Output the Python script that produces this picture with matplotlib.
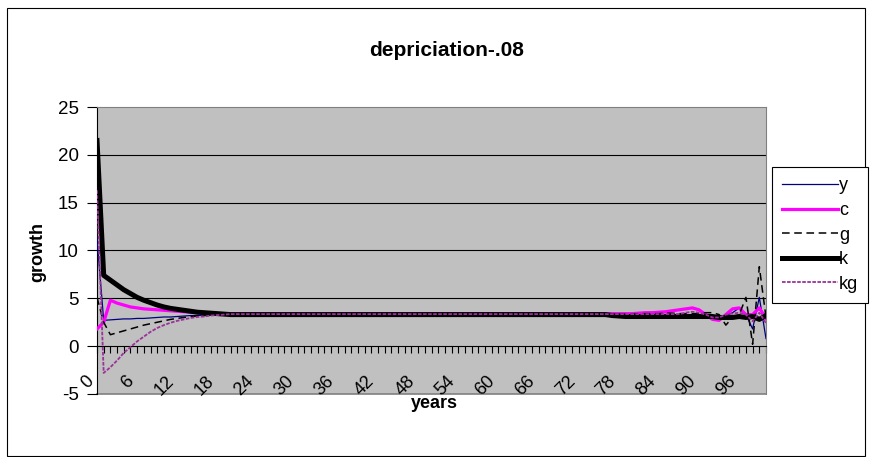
import matplotlib
matplotlib.use("Agg")
import matplotlib.pyplot as plt
from matplotlib.patches import Rectangle
from matplotlib.ticker import MultipleLocator

plt.rcParams['font.family'] = ['Liberation Sans', 'DejaVu Sans']
plt.rcParams['axes.unicode_minus'] = False

years = list(range(0, 101))

y = [11.2, 2.7, 2.75, 2.8, 2.85, 2.85, 2.9, 2.9, 2.95, 3.0,
     3.05, 3.05, 3.1, 3.15, 3.2, 3.2, 3.25, 3.3, 3.3, 3.3,
     3.3, 3.3, 3.3, 3.3, 3.3, 3.3, 3.3, 3.3, 3.3, 3.3,
     3.3, 3.3, 3.3, 3.3, 3.3, 3.3, 3.3, 3.3, 3.3, 3.3,
     3.3, 3.3, 3.3, 3.3, 3.3, 3.3, 3.3, 3.3, 3.3, 3.3,
     3.3, 3.3, 3.3, 3.3, 3.3, 3.3, 3.3, 3.3, 3.3, 3.3,
     3.3, 3.3, 3.3, 3.3, 3.3, 3.3, 3.3, 3.3, 3.3, 3.3,
     3.3, 3.3, 3.3, 3.3, 3.3, 3.3, 3.3, 3.3, 3.3, 3.3,
     3.3, 3.3, 3.3, 3.3, 3.3, 3.3, 3.3, 3.3, 3.3, 3.3,
     3.3, 3.3, 3.1, 3.0, 3.2, 3.5, 4.0, 3.3, 1.8, 5.1,
     0.8]

c = [1.8, 2.5, 4.8, 4.5, 4.3, 4.1, 4.0, 3.9, 3.85, 3.8,
     3.75, 3.7, 3.65, 3.6, 3.55, 3.5, 3.45, 3.42, 3.4, 3.4,
     3.4, 3.4, 3.4, 3.4, 3.4, 3.4, 3.4, 3.4, 3.4, 3.4,
     3.4, 3.4, 3.4, 3.4, 3.4, 3.4, 3.4, 3.4, 3.4, 3.4,
     3.4, 3.4, 3.4, 3.4, 3.4, 3.4, 3.4, 3.4, 3.4, 3.4,
     3.4, 3.4, 3.4, 3.4, 3.4, 3.4, 3.4, 3.4, 3.4, 3.4,
     3.4, 3.4, 3.4, 3.4, 3.4, 3.4, 3.4, 3.4, 3.4, 3.4,
     3.4, 3.4, 3.4, 3.4, 3.4, 3.4, 3.4, 3.4, 3.4, 3.4,
     3.4, 3.45, 3.5, 3.5, 3.55, 3.6, 3.7, 3.8, 3.9, 4.0,
     3.8, 3.3, 2.8, 2.7, 3.3, 3.9, 4.0, 3.3, 3.3, 4.0,
     2.9]

g = [5.1, 2.5, 1.2, 1.4, 1.6, 1.8, 2.0, 2.2, 2.35, 2.5,
     2.65, 2.8, 2.9, 3.0, 3.1, 3.15, 3.2, 3.25, 3.3, 3.3,
     3.35, 3.35, 3.35, 3.35, 3.35, 3.35, 3.35, 3.35, 3.35, 3.35,
     3.35, 3.35, 3.35, 3.35, 3.35, 3.35, 3.35, 3.35, 3.35, 3.35,
     3.35, 3.35, 3.35, 3.35, 3.35, 3.35, 3.35, 3.35, 3.35, 3.35,
     3.35, 3.35, 3.35, 3.35, 3.35, 3.35, 3.35, 3.35, 3.35, 3.35,
     3.35, 3.35, 3.35, 3.35, 3.35, 3.35, 3.35, 3.35, 3.35, 3.35,
     3.35, 3.35, 3.35, 3.35, 3.35, 3.35, 3.35, 3.35, 3.35, 3.35,
     3.35, 3.4, 3.4, 3.4, 3.4, 3.45, 3.45, 3.4, 3.4, 3.4,
     3.4, 3.5, 3.5, 3.3, 2.2, 3.0, 3.3, 5.1, 0.2, 8.3,
     3.0]

k = [21.5, 7.4, 6.9, 6.4, 5.9, 5.5, 5.1, 4.8, 4.55, 4.3,
     4.1, 3.95, 3.85, 3.75, 3.65, 3.55, 3.5, 3.45, 3.4, 3.35,
     3.3, 3.3, 3.3, 3.3, 3.3, 3.3, 3.3, 3.3, 3.3, 3.3,
     3.3, 3.3, 3.3, 3.3, 3.3, 3.3, 3.3, 3.3, 3.3, 3.3,
     3.3, 3.3, 3.3, 3.3, 3.3, 3.3, 3.3, 3.3, 3.3, 3.3,
     3.3, 3.3, 3.3, 3.3, 3.3, 3.3, 3.3, 3.3, 3.3, 3.3,
     3.3, 3.3, 3.3, 3.3, 3.3, 3.3, 3.3, 3.3, 3.3, 3.3,
     3.3, 3.3, 3.3, 3.3, 3.3, 3.3, 3.3, 3.2, 3.15, 3.1,
     3.1, 3.1, 3.1, 3.1, 3.1, 3.1, 3.1, 3.1, 3.1, 3.1,
     3.1, 3.1, 3.1, 3.0, 3.0, 3.0, 3.1, 3.0, 3.1, 2.8,
     3.2]

kg = [16.3, -2.8, -2.2, -1.5, -0.7, -0.1, 0.5, 1.0, 1.5, 1.9,
      2.2, 2.45, 2.65, 2.8, 2.95, 3.05, 3.1, 3.2, 3.25, 3.3,
      3.35, 3.35, 3.35, 3.35, 3.35, 3.35, 3.35, 3.35, 3.35, 3.35,
      3.35, 3.35, 3.35, 3.35, 3.35, 3.35, 3.35, 3.35, 3.35, 3.35,
      3.35, 3.35, 3.35, 3.35, 3.35, 3.35, 3.35, 3.35, 3.35, 3.35,
      3.35, 3.35, 3.35, 3.35, 3.35, 3.35, 3.35, 3.35, 3.35, 3.35,
      3.35, 3.35, 3.35, 3.35, 3.35, 3.35, 3.35, 3.35, 3.35, 3.35,
      3.35, 3.35, 3.35, 3.35, 3.35, 3.35, 3.35, 3.35, 3.35, 3.35,
      3.35, 3.35, 3.35, 3.35, 3.35, 3.35, 3.35, 3.35, 3.5, 3.6,
      3.5, 3.3, 3.0, 3.0, 3.3, 3.4, 3.5, 3.3, 2.6, 3.5,
      2.4]

title = "depriciation-.08"
xlabel = "years"
ylabel = "growth"
y_ticks = [-5, 0, 5, 10, 15, 20, 25]
x_label_step = 6

W, H = 872, 457
fig = plt.figure(figsize=(W / 100, H / 100), dpi=100)
fig.patch.set_facecolor('white')
# outer chart border
fig.add_artist(Rectangle((7 / W, 1 / H), 858 / W, (H - 9) / H, transform=fig.transFigure,
                         fill=False, edgecolor='black', linewidth=0.8))

ax = fig.add_axes([97 / W, 1 - 394 / H, (766 - 97) / W, (394 - 107) / H])
ax.set_facecolor('#C0C0C0')

ax.plot(years, y, color='#000080', lw=0.9, label='y', zorder=3)
ax.plot(years, c, color='#FF00FF', lw=2.3, label='c', zorder=3)
ax.plot(years, g, color='black', lw=1.1, ls=(0, (5, 3)), label='g', zorder=3)
ax.plot(years, k, color='black', lw=3.6, label='k', zorder=3)
ax.plot(years, kg, color='#993399', lw=1.3, ls=(0, (2, 0.8)), label='kg', zorder=4)

ax.set_xlim(0, 100)
ax.set_ylim(-5, 25)
ax.set_yticks(y_ticks)
for v in y_ticks[2:-1]:
    ax.axhline(v, color='black', lw=0.8, zorder=1)

ax.spines['bottom'].set_position(('data', 0))
ax.spines['bottom'].set_color('black')
ax.spines['left'].set_color('black')
ax.spines['top'].set_color('#808080')
ax.spines['right'].set_color('#808080')
ax.axhline(-5, color='#808080', lw=1.2, zorder=1, clip_on=False)

ax.xaxis.set_major_locator(MultipleLocator(x_label_step))
ax.xaxis.set_minor_locator(MultipleLocator(1))
ax.tick_params(axis='x', which='both', direction='out', length=5, width=0.8, color='black')
ax.tick_params(axis='x', which='major', labelsize=13, pad=14, labelrotation=45)
for lab in ax.get_xticklabels():
    lab.set_ha('right')
ax.tick_params(axis='y', direction='out', length=7, width=0.8, labelsize=13.5, pad=6)

fig.text(447 / W, 1 - 50 / H, title, ha='center', va='center', fontsize=15, fontweight='bold')
fig.text(434 / W, 1 - 403 / H, xlabel, ha='center', va='center', fontsize=13, fontweight='bold')
fig.text(38 / W, 1 - 252 / H, ylabel, ha='center', va='center', fontsize=13, fontweight='bold',
         rotation=90)

leg = fig.legend(loc='center left', bbox_to_anchor=(772 / W, 1 - 235 / H), fontsize=13,
                 frameon=True, fancybox=False, edgecolor='black', framealpha=1,
                 handlelength=3.1, handletextpad=0.05, labelspacing=0.42, borderpad=0.55,
                 borderaxespad=0)
leg.get_frame().set_linewidth(0.8)

fig.savefig('out.png', dpi=100, facecolor='white')
